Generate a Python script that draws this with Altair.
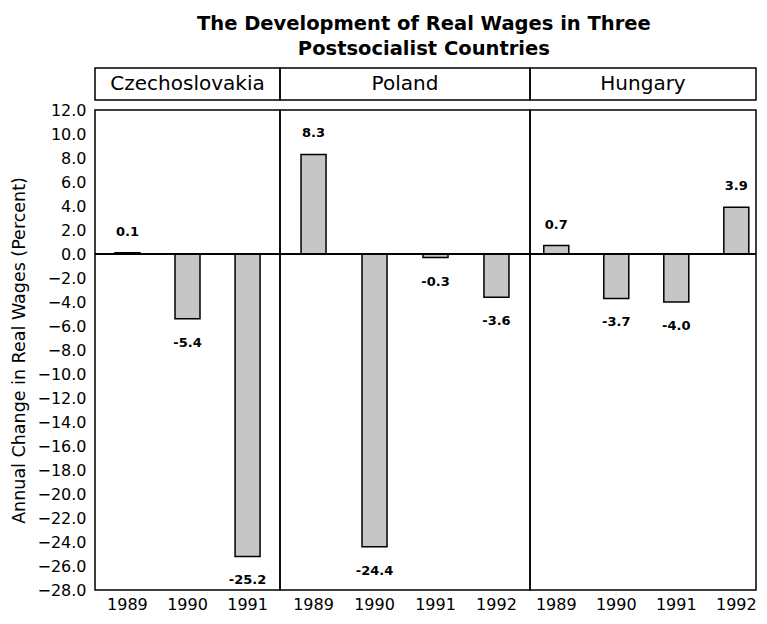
import altair as alt
import pandas as pd

# ---- data ----
countries = ["Czechoslovakia", "Poland", "Hungary"]
cz_years = ["1989", "1990", "1991"]
cz_values = [0.1, -5.4, -25.2]
pl_years = ["1989", "1990", "1991", "1992"]
pl_values = [8.3, -24.4, -0.3, -3.6]
hu_years = ["1989", "1990", "1991", "1992"]
hu_values = [0.7, -3.7, -4.0, 3.9]
y_tick_values = list(range(-28, 13, 2))
title_lines = ["The Development of Real Wages in Three", "Postsocialist Countries"]
y_title = "Annual Change in Real Wages  (Percent)"

FONT = "DejaVu Sans"
Y_DOMAIN = [-28, 12]
PLOT_H = 480
WIDTHS = [185, 250, 226]
SCALES = [
    dict(paddingInner=0.6, paddingOuter=0.34),
    dict(paddingInner=0.6, paddingOuter=0.35),
    dict(paddingInner=0.6, paddingOuter=0.183, align=0.65),
]


def header(name, width):
    df = pd.DataFrame({"country": [name]})
    return alt.Chart(df).mark_text(fontSize=20, font=FONT, color="black").encode(
        x=alt.value(width / 2), y=alt.value(16), text="country:N"
    ).properties(width=width, height=32)


def panel(name, years, values, width, scale_kw, first):
    df = pd.DataFrame({"year": years, "value": values})
    df["country"] = name
    df["label"] = [f"{v:.1f}" for v in values]
    base = alt.Chart(df)
    x = alt.X(
        "year:N", sort=years, title=None,
        scale=alt.Scale(**scale_kw),
        axis=alt.Axis(labelAngle=0, domain=False, ticks=False, labelPadding=6,
                      labelFontSize=16, labelFont=FONT, labelColor="black"),
    )
    if first:
        yaxis = alt.Axis(values=y_tick_values, format=".1f", title=y_title,
                         domain=False, ticks=False, grid=False, labelPadding=9,
                         labelFontSize=16, labelFont=FONT, labelColor="black",
                         titleFontSize=17.5, titleFont=FONT, titleFontWeight="normal",
                         titleColor="black", titlePadding=8)
    else:
        yaxis = None
    y = alt.Y("value:Q", scale=alt.Scale(domain=Y_DOMAIN, nice=False, zero=False), axis=yaxis)

    bars = base.mark_bar(size=25, fill="#c6c6c6", stroke="black", strokeWidth=1.5).encode(x=x, y=y)
    zero = base.mark_rule(color="black", strokeWidth=1.5).encode(y=alt.YDatum(0, axis=yaxis))
    pos = base.transform_filter("datum.value >= 0").mark_text(
        dy=-21, fontSize=13, fontWeight="bold", font=FONT, color="black"
    ).encode(x=x, y=y, text="label:N")
    neg = base.transform_filter("datum.value < 0").mark_text(
        dy=24, fontSize=13, fontWeight="bold", font=FONT, color="black"
    ).encode(x=x, y=y, text="label:N")
    return alt.layer(bars, zero, pos, neg).properties(width=width, height=PLOT_H)


h1, h2, h3 = [header(c, w) for c, w in zip(countries, WIDTHS)]
p1 = panel(countries[0], cz_years, cz_values, WIDTHS[0], SCALES[0], True)
p2 = panel(countries[1], pl_years, pl_values, WIDTHS[1], SCALES[1], False)
p3 = panel(countries[2], hu_years, hu_values, WIDTHS[2], SCALES[2], False)

chart = alt.concat(
    h1, h2, h3, p1, p2, p3, columns=3,
    spacing=alt.RowColnumber(row=10, column=0),
    align="each", bounds="flush",
).properties(
    title=alt.TitleParams(text=title_lines, fontSize=19.5, fontWeight="bold", font=FONT,
                          anchor="middle", dx=40, offset=8, lineHeight=25, color="black"),
    padding={"left": 2, "top": 5, "right": 0, "bottom": 0},
).configure_view(stroke="black", strokeWidth=1.5)

chart.save("out.html", embed_options={"renderer": "svg", "actions": False})
